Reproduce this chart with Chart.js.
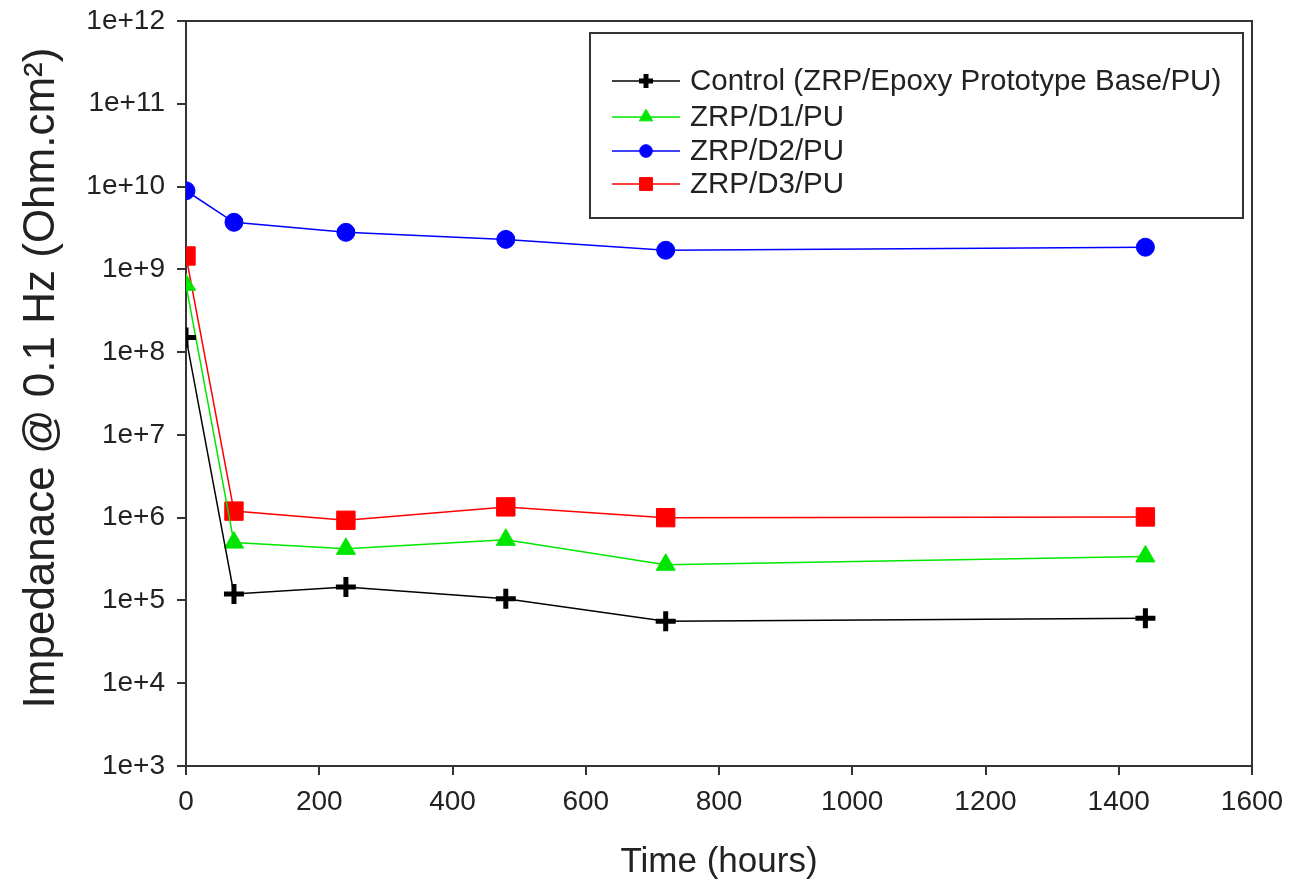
<!DOCTYPE html>
<html>
<head>
<meta charset="utf-8">
<script src="https://cdn.jsdelivr.net/npm/chart.js@4/dist/chart.umd.min.js"></script>
<style>
  html, body { margin: 0; padding: 0; background: #fff; }
  #wrap { width: 1290px; height: 891px; }
</style>
</head>
<body>
<div id="wrap"><canvas id="impChart" width="1290" height="891"></canvas></div>
<script>
// time points (hours)
const hours = [0, 72, 240, 480, 720, 1440];

// impedance at 0.1 Hz (Ohm.cm2)
const control = [1.5e8, 1.2e5, 1.45e5, 1.05e5, 5.6e4, 6.1e4];
const d1 = [6.5e8, 5.0e5, 4.2e5, 5.4e5, 2.7e5, 3.4e5];
const d2 = [8.9e9, 3.7e9, 2.8e9, 2.3e9, 1.7e9, 1.85e9];
const d3 = [1.45e9, 1.2e6, 9.3e5, 1.35e6, 1.0e6, 1.02e6];

const yExponents = [3, 4, 5, 6, 7, 8, 9, 10, 11, 12];
const xTicks = [0, 200, 400, 600, 800, 1000, 1200, 1400, 1600];

const yTitle = 'Impedanace @ 0.1 Hz (Ohm.cm\u00B2)';
const xTitle = 'Time (hours)';

const FONT = "Liberation Sans, Arial, sans-serif";

function toPoints(vals) {
    return hours.map((h, i) => ({ x: h, y: vals[i] }));
}

function series(label, vals, color, style, radius, bw) {
    return {
        label: label,
        data: toPoints(vals),
        borderColor: color,
        backgroundColor: color,
        borderWidth: 1.5,
        pointStyle: style,
        pointRadius: radius,
        pointHoverRadius: radius,
        pointBorderWidth: bw,
        pointBorderColor: color,
        pointBackgroundColor: color,
        tension: 0,
        fill: false,
        legendRadius: radius * 0.7
    };
}

// frame around the plot area (top and right edges) + rotated y title
const framePlugin = {
    id: 'frame',
    afterDraw(chart) {
        const { ctx, chartArea: a } = chart;
        ctx.save();
        ctx.strokeStyle = '#333';
        ctx.lineWidth = 2;
        ctx.beginPath();
        ctx.moveTo(a.left, a.top);
        ctx.lineTo(a.right, a.top);
        ctx.lineTo(a.right, a.bottom);
        ctx.stroke();

        ctx.translate(42, 378);
        ctx.rotate(-Math.PI / 2);
        ctx.font = '44px ' + FONT;
        ctx.fillStyle = '#222';
        ctx.textAlign = 'center';
        ctx.textBaseline = 'middle';
        ctx.fillText(yTitle, 0, 0);
        ctx.restore();
    }
};

// boxed legend inside the plot, like the original
const boxLegend = {
    id: 'boxLegend',
    afterDraw(chart) {
        const ctx = chart.ctx;
        const box = { x: 590, y: 33, w: 653, h: 185 };
        ctx.save();
        ctx.fillStyle = '#fff';
        ctx.fillRect(box.x, box.y, box.w, box.h);
        ctx.strokeStyle = '#333';
        ctx.lineWidth = 2;
        ctx.strokeRect(box.x, box.y, box.w, box.h);

        const rows = [81, 117, 151, 184];
        ctx.font = '29.5px ' + FONT;
        ctx.textBaseline = 'middle';
        chart.data.datasets.forEach((ds, i) => {
            const y = rows[i];
            ctx.strokeStyle = ds.borderColor;
            ctx.lineWidth = 1.5;
            ctx.beginPath();
            ctx.moveTo(612, y);
            ctx.lineTo(680, y);
            ctx.stroke();
            ctx.fillStyle = ds.pointBackgroundColor;
            ctx.strokeStyle = ds.pointBorderColor;
            ctx.lineWidth = ds.pointBorderWidth;
            Chart.helpers.drawPoint(ctx, {
                pointStyle: ds.pointStyle,
                radius: ds.legendRadius,
                rotation: 0,
                borderWidth: ds.pointBorderWidth
            }, 646, y);
            ctx.fillStyle = '#222';
            ctx.fillText(ds.label, 690, y + 1);
        });
        ctx.restore();
    }
};

const ctx = document.getElementById('impChart').getContext('2d');
const chart = new Chart(ctx, {
    type: 'line',
    data: {
        datasets: [
            series('Control (ZRP/Epoxy Prototype Base/PU)', control, '#000000', 'cross', 10, 5),
            series('ZRP/D1/PU', d1, '#00e600', 'triangle', 11, 1),
            series('ZRP/D2/PU', d2, '#0000ff', 'circle', 9, 1),
            series('ZRP/D3/PU', d3, '#ff0000', 'rect', 13, 1)
        ]
    },
    options: {
        responsive: false,
        animation: false,
        layout: { padding: { top: 21, right: 38, left: 0, bottom: 0 } },
        plugins: {
            legend: { display: false },
            tooltip: { enabled: false }
        },
        scales: {
            x: {
                type: 'linear',
                min: 0,
                max: 1600,
                afterBuildTicks: (s) => { s.ticks = xTicks.map(v => ({ value: v })); },
                afterFit: (s) => { s.height = 125; s.paddingLeft = 0; s.paddingRight = 0; },
                grid: { drawOnChartArea: false, drawTicks: true, tickLength: 9, color: '#333', lineWidth: 2 },
                border: { color: '#333', width: 2 },
                ticks: {
                    color: '#222',
                    font: { family: FONT, size: 28 },
                    padding: 10,
                    maxRotation: 0,
                    callback: (v) => String(v)
                },
                title: { display: true, text: xTitle, color: '#222', font: { family: FONT, size: 35 }, padding: { top: 0, bottom: 8 } }
            },
            y: {
                type: 'logarithmic',
                min: 1e3,
                max: 1e12,
                afterBuildTicks: (s) => { s.ticks = yExponents.map(e => ({ value: Math.pow(10, e) })); },
                afterFit: (s) => { s.width = 186; s.paddingTop = 0; s.paddingBottom = 0; },
                grid: { drawOnChartArea: false, drawTicks: true, tickLength: 9, color: '#333', lineWidth: 2 },
                border: { color: '#333', width: 2 },
                ticks: {
                    color: '#222',
                    font: { family: FONT, size: 28 },
                    padding: 12,
                    callback: (v) => '1e+' + Math.round(Math.log10(v))
                },
                title: { display: false }
            }
        }
    },
    plugins: [framePlugin, boxLegend]
});
</script>
</body>
</html>
